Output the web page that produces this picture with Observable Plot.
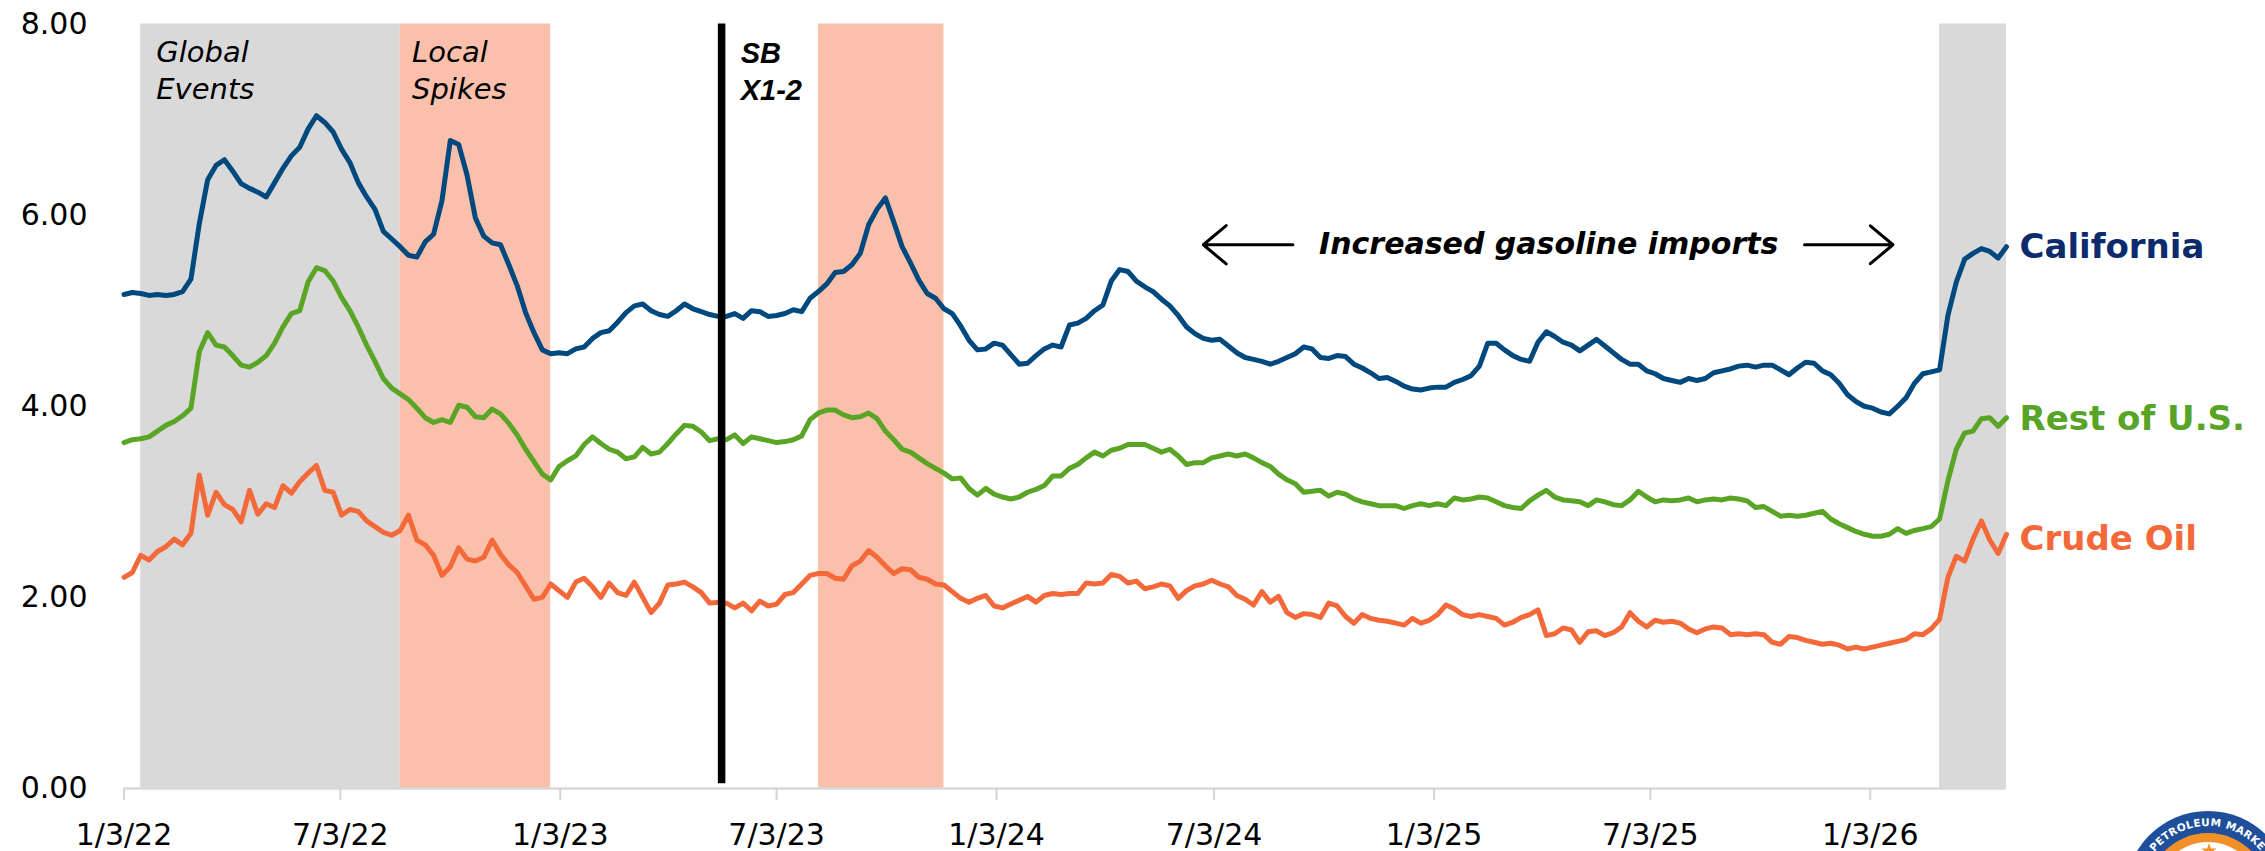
<!DOCTYPE html>
<html>
<head>
<meta charset="utf-8">
<script src="https://cdn.jsdelivr.net/npm/d3@7"></script>
<script src="https://cdn.jsdelivr.net/npm/@observablehq/plot@0.6"></script>
<style>
html, body { margin: 0; padding: 0; background: #fff; }
#wrap { position: relative; width: 2265px; height: 851px; overflow: hidden; background: #fff; }
#logo { position: absolute; left: 0; top: 0; pointer-events: none; }
</style>
</head>
<body>
<div id="wrap"></div>
<script>
// ---- data (weekly, Mondays starting 1/3/22) ----
const firstWeek = "2022-01-03";
const weekCount = 226;

const california = [
5.17,5.19,5.18,5.16,5.17,5.16,5.17,5.20,5.33,5.91,
6.37,6.52,6.58,6.46,6.33,6.28,6.24,6.19,6.34,6.49,
6.62,6.71,6.90,7.04,6.97,6.87,6.69,6.55,6.34,6.19,
6.06,5.83,5.75,5.67,5.58,5.56,5.72,5.80,6.15,6.78,
6.74,6.42,5.97,5.78,5.71,5.69,5.48,5.26,4.98,4.77,
4.59,4.55,4.56,4.55,4.60,4.62,4.71,4.77,4.79,4.88,
4.98,5.05,5.07,5.00,4.96,4.94,5.00,5.07,5.02,4.99,
4.96,4.94,4.94,4.97,4.92,5.00,4.99,4.94,4.95,4.97,
5.01,4.99,5.13,5.20,5.28,5.40,5.41,5.48,5.60,5.90,
6.06,6.18,5.93,5.67,5.50,5.32,5.18,5.13,5.02,4.97,
4.84,4.69,4.59,4.60,4.66,4.64,4.54,4.44,4.45,4.53,
4.60,4.64,4.62,4.85,4.87,4.92,5.00,5.06,5.31,5.43,
5.41,5.31,5.25,5.20,5.12,5.05,4.95,4.83,4.76,4.71,
4.69,4.70,4.63,4.56,4.51,4.49,4.47,4.44,4.47,4.51,
4.55,4.62,4.60,4.51,4.50,4.53,4.52,4.44,4.40,4.35,
4.29,4.30,4.26,4.21,4.18,4.17,4.19,4.20,4.20,4.25,
4.28,4.32,4.42,4.66,4.66,4.59,4.53,4.49,4.47,4.67,
4.78,4.73,4.67,4.64,4.58,4.64,4.70,4.63,4.56,4.49,
4.44,4.44,4.37,4.34,4.29,4.27,4.25,4.29,4.27,4.29,
4.35,4.37,4.39,4.42,4.43,4.41,4.43,4.43,4.38,4.33,
4.40,4.46,4.45,4.37,4.33,4.24,4.12,4.05,4.00,3.98,
3.94,3.92,4.00,4.09,4.24,4.34,4.36,4.38,4.95,5.30,
5.54,5.60,5.65,5.62,5.55,5.67
];

const restOfUS = [
3.62,3.65,3.66,3.68,3.74,3.80,3.84,3.90,3.98,4.57,
4.77,4.64,4.62,4.53,4.43,4.41,4.46,4.53,4.66,4.83,
4.97,5.00,5.30,5.45,5.42,5.31,5.14,5.00,4.83,4.64,
4.47,4.29,4.19,4.13,4.07,3.98,3.88,3.83,3.86,3.83,
4.01,3.99,3.89,3.88,3.97,3.92,3.82,3.70,3.55,3.42,
3.29,3.23,3.37,3.43,3.48,3.60,3.68,3.61,3.55,3.52,
3.45,3.47,3.57,3.50,3.52,3.61,3.71,3.80,3.79,3.73,
3.64,3.66,3.65,3.70,3.61,3.68,3.66,3.64,3.62,3.63,
3.65,3.69,3.86,3.93,3.96,3.96,3.91,3.88,3.89,3.93,
3.87,3.74,3.65,3.55,3.52,3.46,3.40,3.35,3.30,3.24,
3.25,3.14,3.07,3.14,3.08,3.05,3.03,3.05,3.10,3.13,
3.17,3.27,3.27,3.35,3.39,3.46,3.52,3.48,3.54,3.56,
3.60,3.60,3.60,3.56,3.52,3.55,3.48,3.39,3.41,3.41,
3.46,3.48,3.50,3.48,3.50,3.46,3.41,3.37,3.29,3.23,
3.19,3.10,3.11,3.12,3.06,3.10,3.08,3.03,3.00,2.98,
2.96,2.96,2.96,2.93,2.96,2.98,2.96,2.98,2.96,3.04,
3.02,3.03,3.05,3.04,3.00,2.96,2.94,2.93,3.01,3.07,
3.12,3.05,3.02,3.01,3.00,2.96,3.02,3.00,2.97,2.96,
3.02,3.11,3.05,3.00,3.02,3.01,3.02,3.04,3.00,3.02,
3.03,3.02,3.04,3.03,3.01,2.94,2.95,2.90,2.85,2.86,
2.85,2.86,2.88,2.90,2.82,2.77,2.73,2.69,2.66,2.64,
2.64,2.66,2.72,2.67,2.70,2.72,2.74,2.82,3.22,3.55,
3.72,3.74,3.87,3.88,3.79,3.88
];

const crudeOil = [
2.21,2.26,2.44,2.39,2.48,2.53,2.61,2.55,2.67,3.28,
2.86,3.10,2.97,2.92,2.79,3.12,2.87,2.98,2.94,3.17,
3.09,3.21,3.30,3.38,3.12,3.10,2.86,2.92,2.90,2.80,
2.74,2.68,2.65,2.70,2.86,2.60,2.55,2.44,2.23,2.32,
2.52,2.40,2.38,2.42,2.60,2.45,2.34,2.26,2.12,1.98,
2.00,2.14,2.07,2.00,2.16,2.20,2.11,2.00,2.15,2.05,
2.02,2.16,2.00,1.84,1.94,2.13,2.14,2.16,2.11,2.05,
1.94,1.95,1.94,1.89,1.94,1.86,1.96,1.91,1.93,2.03,
2.05,2.14,2.23,2.25,2.25,2.20,2.19,2.33,2.38,2.49,
2.42,2.33,2.25,2.30,2.29,2.21,2.19,2.14,2.13,2.06,
1.99,1.95,1.99,2.02,1.91,1.89,1.93,1.97,2.01,1.95,
2.02,2.04,2.03,2.04,2.04,2.15,2.14,2.15,2.24,2.22,
2.15,2.17,2.09,2.11,2.14,2.12,1.99,2.07,2.12,2.14,
2.18,2.14,2.11,2.02,1.98,1.92,2.06,1.95,2.01,1.84,
1.79,1.83,1.82,1.79,1.94,1.91,1.80,1.73,1.82,1.78,
1.76,1.75,1.73,1.71,1.78,1.73,1.76,1.82,1.92,1.88,
1.82,1.80,1.82,1.80,1.78,1.71,1.74,1.79,1.82,1.87,
1.60,1.62,1.68,1.66,1.53,1.64,1.65,1.60,1.63,1.69,
1.84,1.75,1.69,1.76,1.74,1.75,1.73,1.67,1.63,1.67,
1.69,1.68,1.61,1.62,1.61,1.62,1.61,1.53,1.51,1.59,
1.58,1.55,1.53,1.51,1.52,1.50,1.46,1.48,1.46,1.48,
1.50,1.52,1.54,1.56,1.62,1.61,1.67,1.77,2.21,2.43,
2.38,2.61,2.80,2.60,2.46,2.66
];

const seriesNames = ["California", "Rest of U.S.", "Crude Oil"];
const lineColors = ["#00497e", "#5aa526", "#f4693a"];
const labelColors = ["#0c2a6c", "#58a427", "#f4693a"];
const labelShift = [0, 1, 5];

const bandStart = ["2022-01-17", "2022-08-22", "2023-08-07", "2026-03-02"];
const bandEnd   = ["2022-08-22", "2022-12-26", "2023-11-20", "2026-04-27"];
const bandColor = ["#d9d9d9", "#fac0ab", "#fac0ab", "#d9d9d9"];

const sbDate = "2023-05-18";

const xTickDates = ["2022-01-03","2022-07-03","2023-01-03","2023-07-03","2024-01-03","2024-07-03","2025-01-03","2025-07-03","2026-01-03"];
const xTickLabels = ["1/3/22","7/3/22","1/3/23","7/3/23","1/3/24","7/3/24","1/3/25","7/3/25","1/3/26"];
const yTicks = [0, 2, 4, 6, 8];

// annotation anchors (data coordinates)
const noteTexts  = ["Global\nEvents", "Local\nSpikes"];
const noteDates  = ["2022-01-30", "2022-09-01"];
const sbText = "SB\nX1-2";
const sbTextDate = "2023-06-03";
const importsText = "Increased gasoline imports";
const importsDate = "2025-04-09";
const importsLevel = 5.69;
const arrowFrom = ["2024-09-07", "2025-11-09"];
const arrowTo   = ["2024-06-24", "2026-01-22"];

// ---- build tables ----
const t0 = new Date(firstWeek + "T00:00:00Z");
const dates = d3.range(weekCount).map(i => d3.utcDay.offset(t0, 7 * i));
const seriesValues = [california, restOfUS, crudeOil];
const rows = seriesValues.map((vals, s) => vals.map((v, i) => ({date: dates[i], value: v, series: seriesNames[s]})));
const lastPoints = seriesValues.map((vals, s) => ({date: dates[vals.length - 1], value: vals[vals.length - 1], name: seriesNames[s], color: labelColors[s]}));
const bands = bandStart.map((s, i) => ({start: new Date(s), end: new Date(bandEnd[i]), color: bandColor[i]}));
const tickLabelOf = new Map(xTickDates.map((d, i) => [+new Date(d), xTickLabels[i]]));
const notes = noteTexts.map((t, i) => ({date: new Date(noteDates[i]), value: 8, text: t}));
const arrows = arrowFrom.map((d, i) => ({x1: new Date(d), x2: new Date(arrowTo[i]), y: importsLevel}));

const chart = Plot.plot({
  width: 2265,
  height: 851,
  marginLeft: 123.5,
  marginRight: 259,
  marginTop: 23.5,
  marginBottom: 63,
  style: {fontFamily: "DejaVu Sans", fontSize: "30px", background: "#fff", color: "#000"},
  x: {type: "utc", domain: [dates[0], dates[dates.length - 1]], label: null},
  y: {domain: [0, 8], label: null},
  color: {type: "identity"},
  marks: [
    Plot.rect(bands, {x1: "start", x2: "end", y1: 0, y2: 8, fill: "color"}),
    Plot.ruleY([0], {stroke: "#d9d9d9", strokeWidth: 2.5}),
    Plot.axisX({ticks: xTickDates.map(d => new Date(d)), tickFormat: d => tickLabelOf.get(+d), tickSize: 12, tickPadding: 23, stroke: "#d4d4d4", strokeWidth: 2, fill: "#000", fontSize: 30, label: null}),
    Plot.axisY({ticks: yTicks, tickFormat: d => d.toFixed(2), tickSize: 0, tickPadding: 36.5, fill: "#000", fontSize: 30, label: null}),
    ...rows.map((r, s) => Plot.line(r, {x: "date", y: "value", stroke: lineColors[s], strokeWidth: 5, strokeLinejoin: "round"})),
    Plot.ruleX([{date: new Date(sbDate)}], {x: "date", y1: 0.05, y2: 8, stroke: "#000", strokeWidth: 7.5}),
    ...lastPoints.map((p, s) => Plot.text([p], {x: "date", y: "value", text: "name", fill: "color", dx: 13, dy: labelShift[s], textAnchor: "start", fontSize: 34, fontWeight: "bold"})),
    Plot.text(notes, {x: "date", y: "value", text: "text", textAnchor: "start", lineAnchor: "top", dy: 11, fontSize: 29, fontStyle: "italic", lineHeight: 1.29, fill: "#000"}),
    Plot.text([{date: new Date(sbTextDate), value: 8}], {x: "date", y: "value", text: () => sbText, textAnchor: "start", lineAnchor: "top", dy: 13, fontSize: 29, fontStyle: "italic", fontWeight: "bold", fontFamily: "Liberation Sans", lineHeight: 1.28, fill: "#000"}),
    Plot.text([{date: new Date(importsDate), value: importsLevel}], {x: "date", y: "value", text: () => importsText, textAnchor: "middle", fontSize: 30, fontStyle: "italic", fontWeight: "bold", fill: "#000"}),
    Plot.arrow(arrows, {x1: "x1", x2: "x2", y1: "y", y2: "y", stroke: "#000", strokeWidth: 3, headLength: 20, headAngle: 80})
  ]
});

const wrap = document.getElementById("wrap");
wrap.appendChild(chart);

// decorative seal (partially visible in the bottom-right corner)
const ns = "http://www.w3.org/2000/svg";
const cx = 2208, cy = 894;
const logo = document.createElementNS(ns, "svg");
logo.setAttribute("id", "logo");
logo.setAttribute("width", 2265);
logo.setAttribute("height", 851);
const r = 68;
const a0 = (225 * Math.PI) / 180, a1 = (-45 * Math.PI) / 180;
const p0 = [cx + r * Math.cos(a0), cy - r * Math.sin(a0)];
const p1 = [cx + r * Math.cos(a1), cy - r * Math.sin(a1)];
const starPts = d3.range(10).map(k => {
  const rr = k % 2 ? 3.2 : 8;
  const ang = -Math.PI / 2 + k * Math.PI / 5;
  return [2209 + rr * Math.cos(ang), 851 + rr * Math.sin(ang)].join(",");
}).join(" ");
logo.innerHTML = `
  <defs><path id="sealArc" d="M ${p0[0]},${p0[1]} A ${r},${r} 0 1,1 ${p1[0]},${p1[1]}"/></defs>
  <circle cx="${cx}" cy="${cy}" r="85" fill="#ffffff"/>
  <circle cx="${cx}" cy="${cy}" r="83" fill="#1f4f9b"/>
  <circle cx="${cx}" cy="${cy}" r="61" fill="#f39129"/>
  <circle cx="${cx}" cy="${cy}" r="52" fill="#ffffff"/>
  <text font-family="DejaVu Sans" font-weight="bold" font-size="10.5" fill="#ffffff" letter-spacing="0.3">
    <textPath href="#sealArc" startOffset="50%" text-anchor="middle">DIVISION OF PETROLEUM MARKET OVERSIGHT</textPath>
  </text>
  <polygon points="${starPts}" fill="#f39129"/>`;
wrap.appendChild(logo);
</script>
</body>
</html>
